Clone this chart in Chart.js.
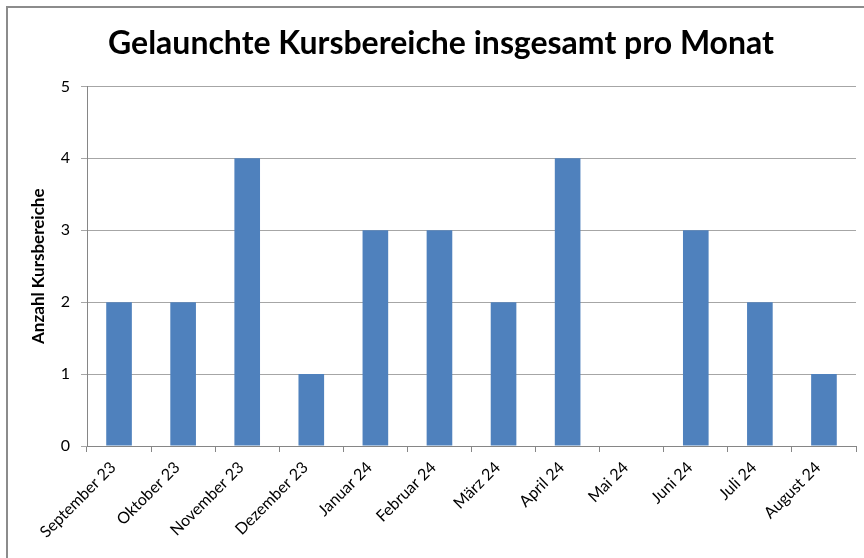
<!DOCTYPE html>
<html>
<head>
<meta charset="utf-8">
<script src="https://cdn.jsdelivr.net/npm/chart.js@4"></script>
<style>
  body { margin: 0; background: #fff; }
  #wrap { width: 864px; height: 558px; }
</style>
</head>
<body>
<div id="wrap"><canvas id="myChart" width="864" height="558"></canvas></div>
<script>
const monate = ["September 23", "Oktober 23", "November 23", "Dezember 23", "Januar 24", "Februar 24", "März 24", "April 24", "Mai 24", "Juni 24", "Juli 24", "August 24"];
const anzahl = [2, 2, 4, 1, 3, 3, 2, 4, 0, 3, 2, 1];
const yTicks = [0, 1, 2, 3, 4, 5];

// rahmen links und oben wie im excel-bild
const rahmen = {
  id: "rahmen",
  beforeDraw(chart) {
    const c = chart.ctx;
    c.save();
    c.strokeStyle = "#8c8c8c";
    c.lineWidth = 2;
    c.beginPath();
    c.moveTo(7, 558);
    c.lineTo(7, 7);
    c.lineTo(864, 7);
    c.stroke();
    c.restore();
  }
};

const ctx = document.getElementById("myChart");

new Chart(ctx, {
  type: "bar",
  data: {
    labels: monate,
    datasets: [{
      label: "Anzahl Kursbereiche",
      data: anzahl,
      backgroundColor: "#4F81BD",
      borderWidth: 0,
      barPercentage: 0.4,
      categoryPercentage: 1
    }]
  },
  plugins: [rahmen],
  options: {
    responsive: false,
    animation: false,
    layout: { padding: { left: 26, right: 8, top: 6, bottom: 0 } },
    plugins: {
      legend: { display: false },
      tooltip: { enabled: false },
      title: {
        display: true,
        text: "Gelaunchte Kursbereiche insgesamt pro Monat",
        color: "#000",
        font: { family: "Lato", size: 32, weight: "bold" },
        padding: { top: 18, bottom: 24 }
      }
    },
    scales: {
      x: {
        offset: true,
        grid: { display: true, drawOnChartArea: false, drawTicks: true, tickLength: 6, color: "#868686" },
        border: { color: "#868686", width: 1 },
        ticks: {
          color: "#000",
          font: { family: "Lato", size: 16 },
          minRotation: 45,
          maxRotation: 45,
          autoSkip: false,
          labelOffset: -6,
          padding: 6
        },
        afterFit(scale) { scale.height = 112; }
      },
      y: {
        min: 0,
        max: 5,
        afterBuildTicks(scale) { scale.ticks = yTicks.map(v => ({ value: v })); },
        grid: { color: "#A6A6A6", tickLength: 6 },
        border: { color: "#868686", width: 1 },
        ticks: {
          color: "#000",
          font: { family: "Lato", size: 16 },
          padding: 11
        },
        title: {
          display: true,
          text: "Anzahl Kursbereiche",
          color: "#000",
          font: { family: "Lato", size: 17, weight: "bold" },
          padding: { top: 2, bottom: 0 }
        },
        afterFit(scale) { scale.width = 61; }
      }
    }
  }
});
</script>
</body>
</html>
